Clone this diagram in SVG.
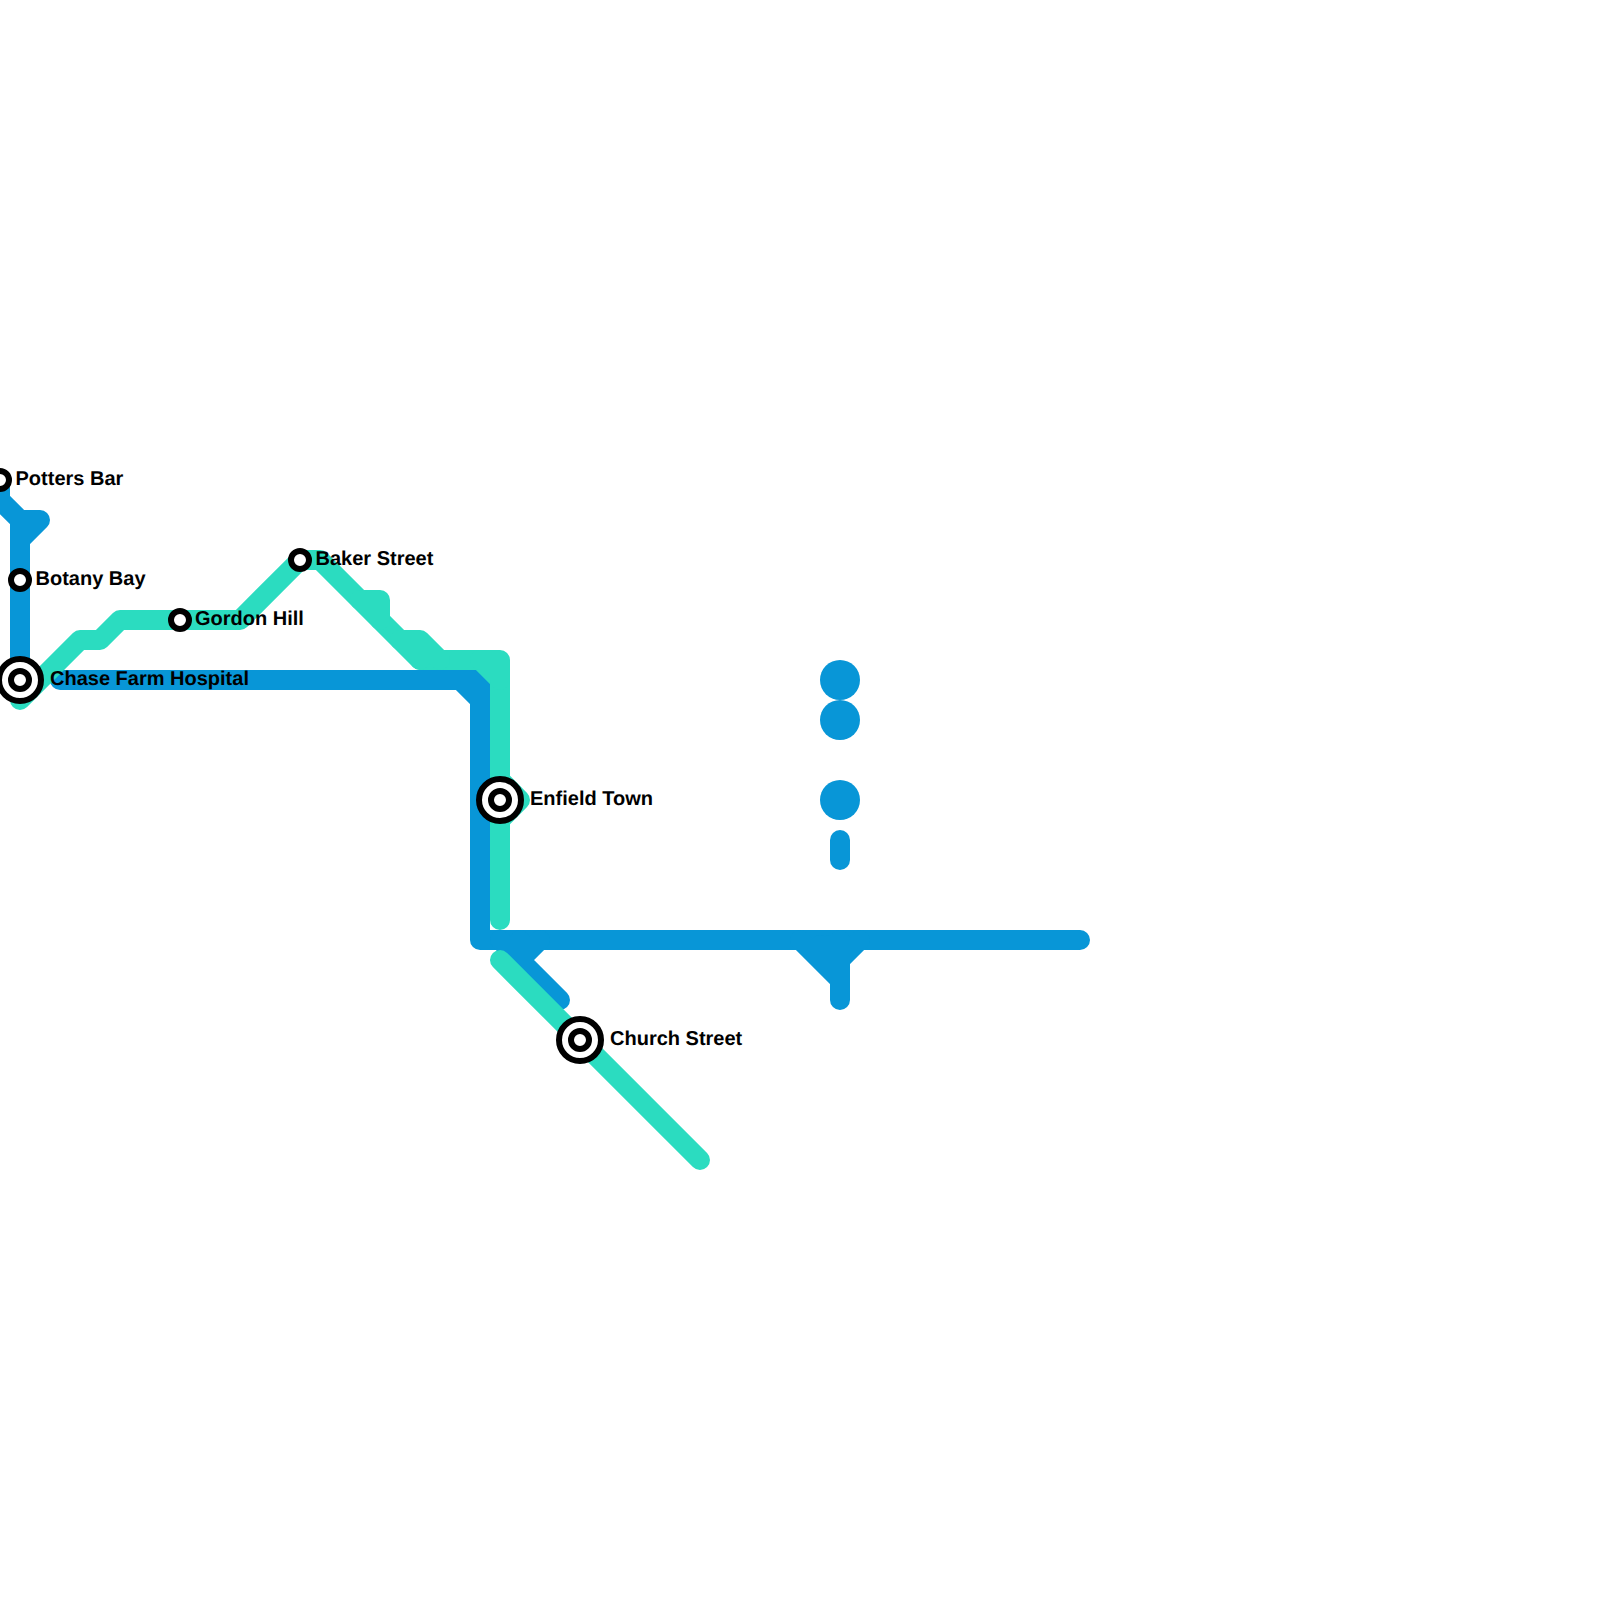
<svg xmlns="http://www.w3.org/2000/svg" width="1600" height="1600" viewBox="0 0 1600 1600">
<style>
.line{fill:none;stroke-width:20;stroke-linecap:round;stroke-linejoin:round}
.blue{stroke:#0896d7}
.teal{stroke:#2bdcc0}
.dot{fill:#0896d7}
.ring{fill:#fff;stroke:#000;stroke-width:6}
.label{font-family:"Liberation Sans",Arial,sans-serif;font-weight:700;font-size:20px;fill:#000;text-rendering:geometricPrecision}
</style>
<rect width="1600" height="1600" fill="#fff"/>
<g id="connectors">
<path class="line blue" d="M0 480V500L20 520H40L20 540V680M20 520V540M30 525L20 530"/>
<path class="line blue" d="M60 680H460L480 700V940H1080M460 680H480V700"/>
<path class="line blue" d="M560 1000L520 960L540 940M520 940V960M500 940L520 960"/>
<path class="line blue" d="M800 940L840 980V1000M860 940L840 960M840 940V980M820 945V960M830 945V970"/>
<path class="line teal" d="M20 700L80 640H100L120 620H240L300 560H320L360 600H380V620L420 660H480L500 680V920"/>
<path class="line teal" d="M360 600L380 620M400 640H420L440 660M420 640V660M480 660H500V680"/>
<path class="line teal" d="M500 780L520 800L500 820"/>
<path class="line teal" d="M500 960L700 1160"/>
</g>
<g id="dots">
<circle class="dot" cx="840" cy="680" r="20"/>
<circle class="dot" cx="840" cy="720" r="20"/>
<circle class="dot" cx="840" cy="800" r="20"/>
<path class="line blue" d="M840 840V860"/>
</g>
<g id="potters-bar"><circle class="ring" cx="0" cy="480" r="9"/><text class="label" x="15.5" y="485">Potters Bar</text></g>
<g id="botany-bay"><circle class="ring" cx="20" cy="580" r="9"/><text class="label" x="35.5" y="585">Botany Bay</text></g>
<g id="gordon-hill"><circle class="ring" cx="180" cy="620" r="9"/><text class="label" x="195" y="625">Gordon Hill</text></g>
<g id="baker-street"><circle class="ring" cx="300" cy="560" r="9"/><text class="label" x="315.5" y="565">Baker Street</text></g>
<g id="chase-farm-hospital"><circle class="ring" cx="20" cy="680" r="21"/><circle class="ring" cx="20" cy="680" r="9"/><text class="label" x="50" y="685">Chase Farm Hospital</text></g>
<g id="enfield-town"><circle class="ring" cx="500" cy="800" r="21"/><circle class="ring" cx="500" cy="800" r="9"/><text class="label" x="530" y="805">Enfield Town</text></g>
<g id="church-street"><circle class="ring" cx="580" cy="1040" r="21"/><circle class="ring" cx="580" cy="1040" r="9"/><text class="label" x="610" y="1045">Church Street</text></g>
</svg>
